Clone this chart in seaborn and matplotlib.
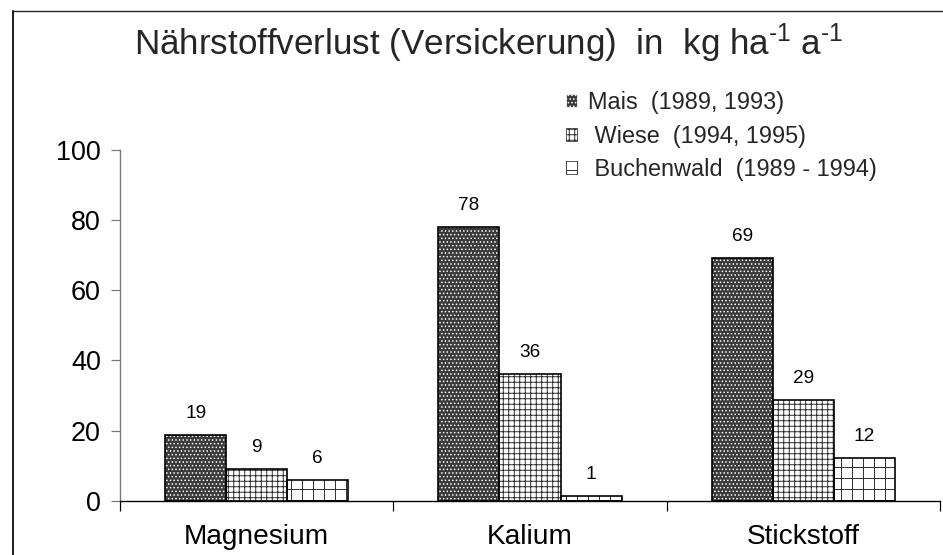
import matplotlib
matplotlib.use("Agg")
import matplotlib.pyplot as plt
import seaborn as sns
import pandas as pd
from matplotlib.patches import Patch
from matplotlib.lines import Line2D

DPI = 66
def pt(px):
    return px * 72.0 / DPI

categories = ["Magnesium", "Kalium", "Stickstoff"]
series = ["Mais  (1989, 1993)", " Wiese  (1994, 1995)", " Buchenwald  (1989 - 1994)"]
mais = [18.6, 78.0, 69.2]
wiese = [8.9, 36.2, 28.6]
buchenwald = [6.0, 1.4, 12.2]
yticks = [0, 20, 40, 60, 80, 100]
title = "Nährstoffverlust (Versickerung)  in  kg ha$^{\\text{-1}}$ a$^{\\text{-1}}$"

rows = []
for s, vals in zip(series, [mais, wiese, buchenwald]):
    for c, v in zip(categories, vals):
        rows.append({"Nährstoff": c, "Bestand": s, "Wert": v})
df = pd.DataFrame(rows)

sns.set_style("white")
plt.rcParams["font.family"] = ["Liberation Sans", "DejaVu Sans"]
plt.rcParams["mathtext.default"] = "regular"
plt.rcParams["mathtext.fontset"] = "custom"
plt.rcParams["mathtext.rm"] = "Liberation Sans"
plt.rcParams["hatch.linewidth"] = 1.0

fig = plt.figure(figsize=(943 / DPI, 555 / DPI), dpi=DPI)
ax = fig.add_axes([120 / 943, 1 - 500.7 / 555, (940 - 120) / 943, (500.7 - 150) / 555])

styles = [
    dict(face="#3a3a3a", hatch="...", hcol="white"),
    dict(face="white", hatch="++", hcol="#222222"),
    dict(face="white", hatch="+", hcol="#222222"),
]

sns.barplot(data=df, x="Nährstoff", y="Wert", hue="Bestand", order=categories,
            hue_order=series, width=0.67, palette=["#3a3a3a", "white", "white"],
            saturation=1, legend=False, ax=ax)

for cont, st, vals in zip(ax.containers, styles, [mais, wiese, buchenwald]):
    for p in cont:
        p.set_facecolor(st["face"])
        p.set_edgecolor(st["hcol"])
        p.set_hatch(st["hatch"])
        p.set_linewidth(0)
        ax.bar(p.get_x(), p.get_height(), width=p.get_width(), align="edge",
               fill=False, edgecolor="black", linewidth=1.8, zorder=3)
    ax.bar_label(cont, labels=[f"{v:.0f}" for v in vals], padding=pt(13),
                 fontsize=pt(19), color="black")

ax.set_ylim(0, 100)
ax.set_xlim(-0.5, 2.5)
ax.set_yticks(yticks)
ax.set_xticks([0, 1, 2], labels=categories)
ax.set_xticks([-0.5, 0.5, 1.5, 2.5], minor=True)
ax.tick_params(axis="x", which="major", length=0, pad=pt(23), labelsize=pt(28), colors="black")
ax.tick_params(axis="x", which="minor", length=pt(10), width=1.3, color="black", direction="out", bottom=True)
ax.tick_params(axis="y", length=pt(9), width=1.3, color="#777777", pad=pt(10), labelsize=pt(27),
               direction="out", left=True, labelcolor="black")
ax.set_xlabel("")
ax.set_ylabel("")
for s in ["top", "right"]:
    ax.spines[s].set_visible(False)
ax.spines["left"].set_color("#777777")
ax.spines["left"].set_linewidth(1.5)
ax.spines["bottom"].set_color("black")
ax.spines["bottom"].set_linewidth(1.5)
ax.patch.set_alpha(0)

handles = [Patch(facecolor=st["face"], edgecolor=st["hcol"] if i == 0 else "#222222",
                 hatch=st["hatch"], linewidth=0.8) for i, st in enumerate(styles)]
leg = fig.legend(handles, series, loc="upper left", bbox_to_anchor=(566 / 943, 1 - 91 / 555),
                 frameon=False, fontsize=pt(23.5), handlelength=0.47, handleheight=0.47,
                 handletextpad=0.45, labelspacing=0.45, borderaxespad=0, borderpad=0)

fig.text(489 / 943, 1 - 43 / 555, title, ha="center", va="center", fontsize=pt(35))

# figure frame (cut by the image edges)
fig.add_artist(Line2D([13 / 943, 13 / 943], [1 - 11 / 555, 0], transform=fig.transFigure,
                      color="#222222", linewidth=2.2))
fig.add_artist(Line2D([13 / 943, 1], [1 - 11 / 555, 1 - 11 / 555], transform=fig.transFigure,
                      color="#222222", linewidth=1.5))

fig.savefig("out.png", dpi=DPI)
